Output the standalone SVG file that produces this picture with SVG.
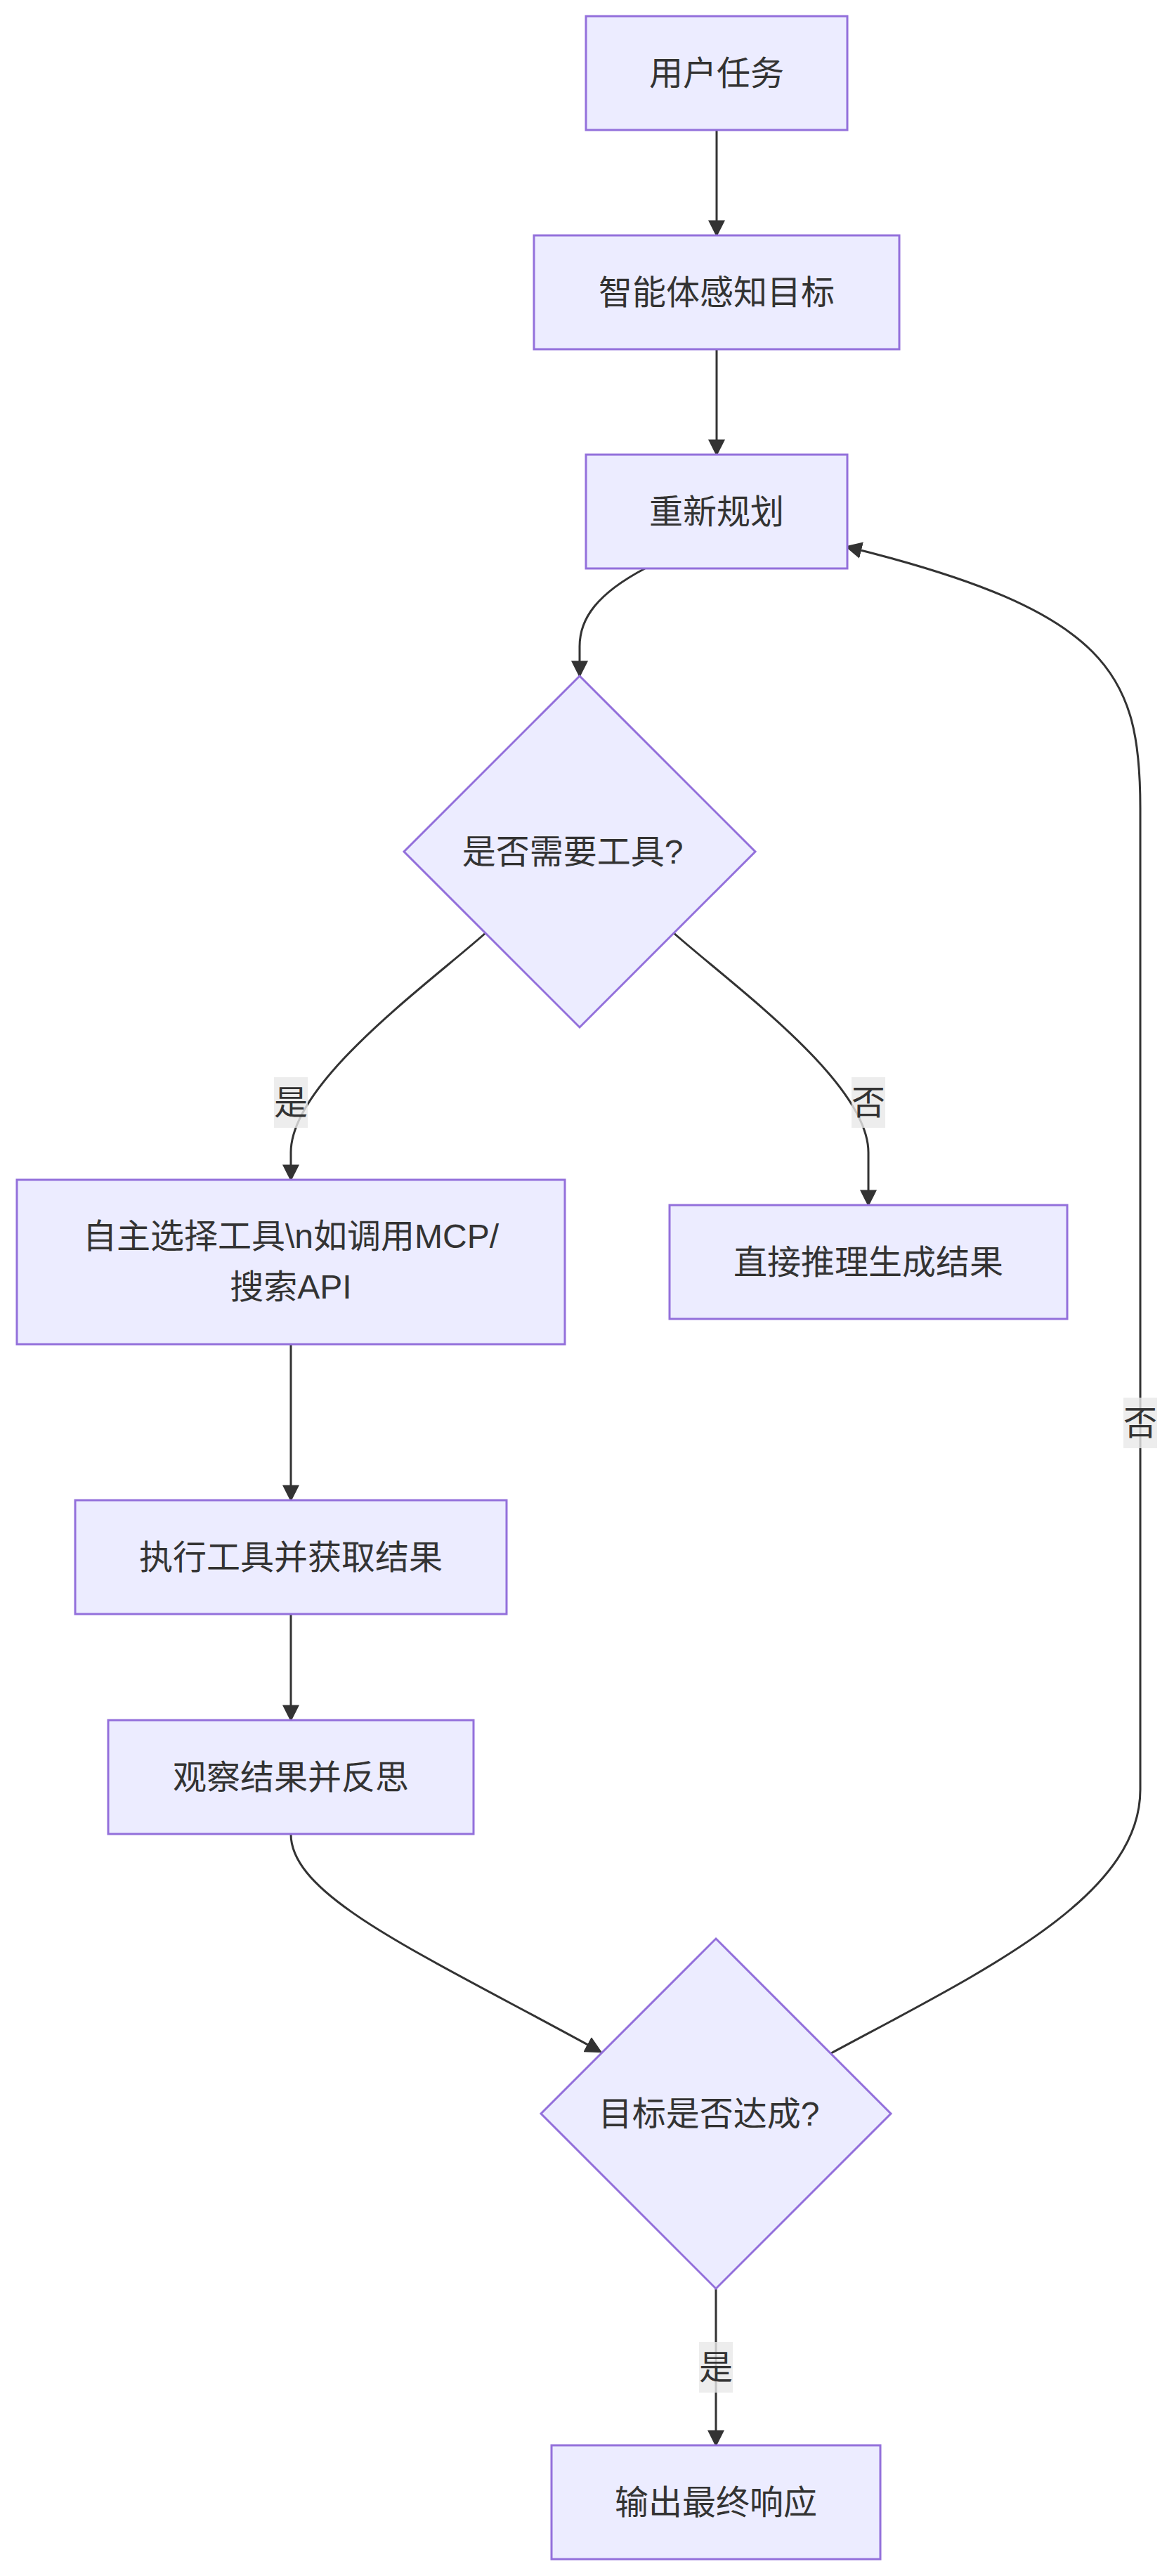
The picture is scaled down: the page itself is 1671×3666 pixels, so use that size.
<svg xmlns="http://www.w3.org/2000/svg" width="1671" height="3666" viewBox="0 0 1671 3666">
<style>
.node rect, .node polygon { fill: #ECECFF; stroke: #9370DB; stroke-width: 3; }
.node text, .elabel text { font-family: "Liberation Sans", "Noto Sans CJK SC", sans-serif; font-size: 48px; fill: #333333; text-anchor: middle; dominant-baseline: central; }
.edges path { fill: none; stroke: #333333; stroke-width: 3; }
.elabel rect { fill: #e8e8e8; fill-opacity: 0.8; }
</style>
<defs>
<marker id="arrow" viewBox="0 0 10 10" refX="9" refY="5" markerUnits="userSpaceOnUse" markerWidth="24" markerHeight="24" orient="auto">
<path d="M0,0 L10,5 L0,10 z" fill="#333333"/>
</marker>
</defs>
<rect x="0" y="0" width="1671" height="3666" fill="#ffffff"/>
<g id="edges" class="edges">
<path id="e1" d="M1020,185 L1020,335" marker-end="url(#arrow)"/>
<path id="e2" d="M1020,497 L1020,647" marker-end="url(#arrow)"/>
<path id="e3" d="M918,809 C850,845 825,880 825,920 L825,962" marker-end="url(#arrow)"/>
<path id="e4" d="M692,1327 C610,1400 414,1540 414,1640 L414,1679" marker-end="url(#arrow)"/>
<path id="e5" d="M958,1327 C1040,1400 1236,1540 1236,1640 L1236,1715" marker-end="url(#arrow)"/>
<path id="e6" d="M414,1913 L414,2135" marker-end="url(#arrow)"/>
<path id="e7" d="M414,2297 L414,2448" marker-end="url(#arrow)"/>
<path id="e8" d="M414,2610 C414,2700 600,2780 855,2920" marker-end="url(#arrow)"/>
<path id="e9" d="M1019,3257 L1019,3480" marker-end="url(#arrow)"/>
<path id="e10" d="M1183,2922 C1400,2805 1623,2700 1623,2547 L1623,1150 C1623,960 1580,870 1205,778" marker-end="url(#arrow)"/>
</g>
<g id="edge-labels">
<g id="l1" class="elabel"><rect x="390" y="1533" width="48" height="72"/><text x="414" y="1569">是</text></g>
<g id="l2" class="elabel"><rect x="1212" y="1533" width="48" height="72"/><text x="1236" y="1569">否</text></g>
<g id="l3" class="elabel"><rect x="1599" y="1989" width="48" height="72"/><text x="1623" y="2025">否</text></g>
<g id="l4" class="elabel"><rect x="995" y="3333" width="48" height="72"/><text x="1019" y="3369">是</text></g>
</g>
<g id="n1" class="node"><rect x="834" y="23" width="372" height="162"/><text x="1020" y="104">用户任务</text></g>
<g id="n2" class="node"><rect x="760" y="335" width="520" height="162"/><text x="1020" y="416">智能体感知目标</text></g>
<g id="n3" class="node"><rect x="834" y="647" width="372" height="162"/><text x="1020" y="728">重新规划</text></g>
<g id="n4" class="node"><polygon points="825,962 1075,1212 825,1462 575,1212"/><text x="815" y="1212">是否需要工具?</text></g>
<g id="n5" class="node"><rect x="24" y="1679" width="780" height="234"/><text x="414" y="1759">自主选择工具\n如调用MCP/</text><text x="414" y="1831">搜索API</text></g>
<g id="n6" class="node"><rect x="953" y="1715" width="566" height="162"/><text x="1236" y="1796">直接推理生成结果</text></g>
<g id="n7" class="node"><rect x="107" y="2135" width="614" height="162"/><text x="414" y="2216">执行工具并获取结果</text></g>
<g id="n8" class="node"><rect x="154" y="2448" width="520" height="162"/><text x="414" y="2529">观察结果并反思</text></g>
<g id="n9" class="node"><polygon points="1019,2759 1268,3008 1019,3257 770,3008"/><text x="1009" y="3008">目标是否达成?</text></g>
<g id="n10" class="node"><rect x="785" y="3480" width="468" height="162"/><text x="1019" y="3561">输出最终响应</text></g>
</svg>
